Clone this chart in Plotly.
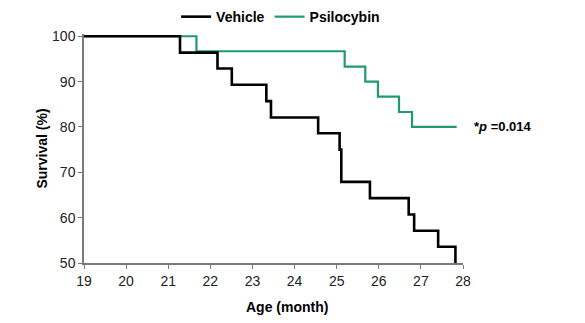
import plotly.graph_objects as go

# Kaplan-Meier style survival data
vehicle_age = [19, 21.28, 22.17, 22.51, 23.33, 23.44, 24.56, 25.07, 25.11, 25.79, 26.71, 26.84, 27.41, 27.82]
vehicle_surv = [100, 96.4, 92.9, 89.3, 85.7, 82.1, 78.6, 75.0, 67.9, 64.3, 60.7, 57.1, 53.6, 50.0]

psilo_age = [19, 21.67, 25.19, 25.68, 25.98, 26.48, 26.79, 27.85]
psilo_surv = [100, 96.7, 93.3, 90.0, 86.7, 83.3, 80.0, 80.0]

x_ticks = [19, 20, 21, 22, 23, 24, 25, 26, 27, 28]
y_ticks = [50, 60, 70, 80, 90, 100]

FONT = "Liberation Sans, Arial, Helvetica, sans-serif"
GREEN = "#1f9a6e"
AXIS = "#7a7a7a"

fig = go.Figure()
fig.add_trace(go.Scatter(
    x=psilo_age, y=psilo_surv, mode="lines", line_shape="hv",
    line=dict(color=GREEN, width=2.2), name="<b>Psilocybin</b>", legendrank=2,
))
fig.add_trace(go.Scatter(
    x=vehicle_age, y=vehicle_surv, mode="lines", line_shape="hv",
    line=dict(color="black", width=2.6), name="<b>Vehicle</b>", legendrank=1,
))

fig.add_annotation(
    x=1.025, y=(80 - 50) / 50.5, xref="paper", yref="paper", text="<b>*<i>p</i> =0.014</b>",
    showarrow=False, xanchor="left", yanchor="middle",
    font=dict(family=FONT, size=13, color="black"),
)
fig.add_annotation(
    x=0.535, y=-0.15, xref="paper", yref="paper", text="<b>Age (month)</b>",
    showarrow=False, xanchor="center", yanchor="top",
    font=dict(family=FONT, size=14, color="black"),
)

fig.update_xaxes(
    range=[19, 28], tickvals=x_ticks, showline=True, linecolor=AXIS, linewidth=1.5,
    ticks="outside", ticklen=4, tickcolor=AXIS, showgrid=False, zeroline=False,
    tickfont=dict(family=FONT, size=14, color="#222"),
)
fig.update_yaxes(
    range=[50, 100.5], tickvals=y_ticks, showline=True, linecolor=AXIS, linewidth=1.5,
    ticks="outside", ticklen=4, tickcolor=AXIS, showgrid=False, zeroline=False,
    tickfont=dict(family=FONT, size=14, color="#222"),
    title=dict(text="<b>Survival (%)</b>", standoff=1, font=dict(family=FONT, size=14, color="black")),
)

fig.update_layout(
    width=585, height=323,
    margin=dict(l=84, r=122, t=34, b=60, autoexpand=False),
    plot_bgcolor="white", paper_bgcolor="white",
    font=dict(family=FONT, size=14, color="black"),
    legend=dict(orientation="h", x=0.243, y=1.074, xanchor="left", yanchor="middle",
                font=dict(family=FONT, size=14, color="black"), bgcolor="rgba(0,0,0,0)",
                itemwidth=30),
    showlegend=True,
)

fig.write_html("out.html")
